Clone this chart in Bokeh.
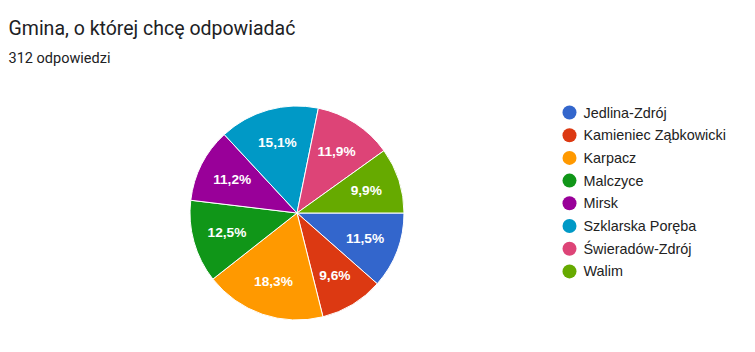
import math
from bokeh.plotting import figure
from bokeh.models import ColumnDataSource, Range1d
from bokeh.core.properties import value
from bokeh.embed import file_html
from bokeh.resources import INLINE

title = "Gmina, o której chcę odpowiadać"
subtitle = "312 odpowiedzi"
categories = ["Jedlina-Zdrój", "Kamieniec Ząbkowicki", "Karpacz", "Malczyce",
              "Mirsk", "Szklarska Poręba", "Świeradów-Zdrój", "Walim"]
percents = [11.5, 9.6, 18.3, 12.5, 11.2, 15.1, 11.9, 9.9]
colors = ["#3366cc", "#dc3912", "#ff9900", "#109618",
          "#990099", "#0099c6", "#dd4477", "#66aa00"]

W, H = 755, 352
p = figure(width=W, height=H, output_backend="svg", toolbar_location=None,
           x_range=Range1d(0, W), y_range=Range1d(-H, 0), min_border=0)
p.axis.visible = False
p.grid.visible = False
p.outline_line_color = None
p.background_fill_color = "white"
p.border_fill_color = "white"

cx, cy, R = 296.5, -212.5, 107
total = sum(percents)
starts, ends, lx, ly, labels = [], [], [], [], []
cum = 0.0
for v in percents:
    a0 = -cum / total * 2 * math.pi
    cum += v
    a1 = -cum / total * 2 * math.pi
    starts.append(a1)
    ends.append(a0)
    mid = (a0 + a1) / 2
    lx.append(cx + 0.68 * R * math.cos(mid))
    ly.append(cy + 0.68 * R * math.sin(mid))
    labels.append(f"{v:.1f}%".replace(".", ","))

src = ColumnDataSource(dict(s=starts, e=ends, c=colors))
p.wedge(x=cx, y=cy, radius=R, start_angle="s", end_angle="e",
        direction="anticlock", fill_color="c", line_color="white",
        line_width=1, source=src)

p.text(x=lx, y=ly, text=labels, text_align="center", text_baseline="middle",
       text_color="white", text_font=value("Liberation Sans"),
       text_font_size="13.7px", text_font_style="bold")

p.text(x=[8], y=[-28], text=[title], text_font=value("Roboto"),
       text_font_size="19.5px", text_color="#202124", text_baseline="alphabetic")
p.text(x=[8], y=[-58], text=[subtitle], text_font=value("Roboto"),
       text_font_size="14.5px", text_color="#202124", text_baseline="alphabetic")

ys = [-(112 + 22.7 * i) for i in range(len(categories))]
p.scatter(x=[569] * len(categories), y=ys, size=14, fill_color=colors,
          line_color=None)
p.text(x=[583] * len(categories), y=ys, text=categories,
       text_font=value("Liberation Sans"), text_font_size="14.4px",
       text_color="#222222", text_baseline="middle")

open("out.html", "w").write(file_html(p, INLINE))
